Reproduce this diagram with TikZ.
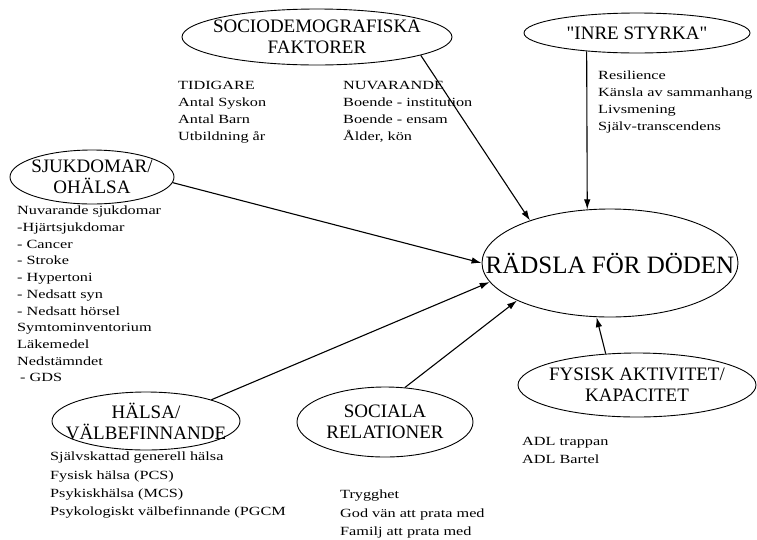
\documentclass[tikz,border=0pt]{standalone}
\usepackage{fontspec}
\newfontfamily\boxfont{Liberation Serif}
\newfontfamily\listfont[FakeStretch=1.3]{Liberation Serif}
\usetikzlibrary{shapes.geometric,arrows.meta}

\begin{document}
\begin{tikzpicture}[x=1pt, y=-1pt,
  >={Latex[length=10pt,width=6.5pt]},
  factor/.style={draw,ellipse,line width=0.9pt,inner sep=0pt},
  factortext/.style={font=\boxfont\fontsize{19}{21}\selectfont,align=center},
  itemlist/.style={font=\listfont\fontsize{12.5}{#1}\selectfont,align=left,anchor=north west,inner sep=0pt},
  itemlist/.default=17,
  link/.style={->,line width=1.1pt},
  ]
	\useasboundingbox (0,0) rectangle (757,539);
	% ellipses
	\node [factor,minimum width=256pt,minimum height=108pt,
	  label={[font=\boxfont\fontsize{25}{27}\selectfont]center:RÄDSLA FÖR DÖDEN}] (fear) at (610,263) {} ;
	\node [factor,minimum width=270pt,minimum height=56pt,
	  label={[factortext]center:SOCIODEMOGRAFISKA\\FAKTORER}] (socio) at (317,37) {} ;
	\node [factor,minimum width=226pt,minimum height=40pt,
	  label={[factortext]center:"INRE STYRKA"}] (inner) at (637,33) {} ;
	\node [factor,minimum width=164pt,minimum height=54pt,
	  label={[factortext]center:SJUKDOMAR/\\OHÄLSA}] (sjuk) at (92,177) {} ;
	\node [factor,minimum width=188pt,minimum height=58pt,
	  label={[factortext]center:HÄLSA/\\VÄLBEFINNANDE}] (halsa) at (146,421) {} ;
	\node [factor,minimum width=176pt,minimum height=70pt,
	  label={[factortext]center:SOCIALA\\RELATIONER}] (social) at (385,422) {} ;
	\node [factor,minimum width=238pt,minimum height=64pt,
	  label={[factortext]center:FYSISK AKTIVITET/\\KAPACITET}] (fysisk) at (637,385) {} ;
	% lists
	\node [itemlist] (sociopast) at (178,81) {TIDIGARE\\Antal Syskon\\Antal Barn\\Utbildning år} ;
	\node [itemlist] (socionow) at (343,81) {NUVARANDE\\Boende - institution\\Boende - ensam\\Ålder, kön} ;
	\node [itemlist] (innerlist) at (598,71) {Resilience\\Känsla av sammanhang\\Livsmening\\Själv-transcendens} ;
	\node [itemlist=16.7] (sjuklist) at (17,206) {Nuvarande sjukdomar\\-Hjärtsjukdomar\\- Cancer\\- Stroke\\- Hypertoni\\- Nedsatt syn\\- Nedsatt hörsel\\Symtominventorium\\Läkemedel\\Nedstämndet\\\hspace*{3pt}- GDS} ;
	\node [itemlist=18.3] (halsalist) at (50,452) {Självskattad generell hälsa\\Fysisk hälsa (PCS)\\Psykiskhälsa (MCS)\\Psykologiskt välbefinnande (PGCM} ;
	\node [itemlist=18.3] (sociallist) at (340,490) {Trygghet\\God vän att prata med\\Familj att prata med} ;
	\node [itemlist=18] (fysisklist) at (522,437) {ADL trappan\\ADL Bartel} ;
	% arrows
	\draw [link] (socio.-10) -- (fear.152) ;
	\draw [link] (inner.-160) -- (fear.113) ;
	\draw [link] (sjuk.-4) -- (fear.180) ;
	\draw [link] (halsa.18) -- (fear.-171) ;
	\draw [link] (social.60) -- (fear.-158) ;
	\draw [link] (fysisk.135) -- (fear.-104) ;
\end{tikzpicture}
\end{document}
